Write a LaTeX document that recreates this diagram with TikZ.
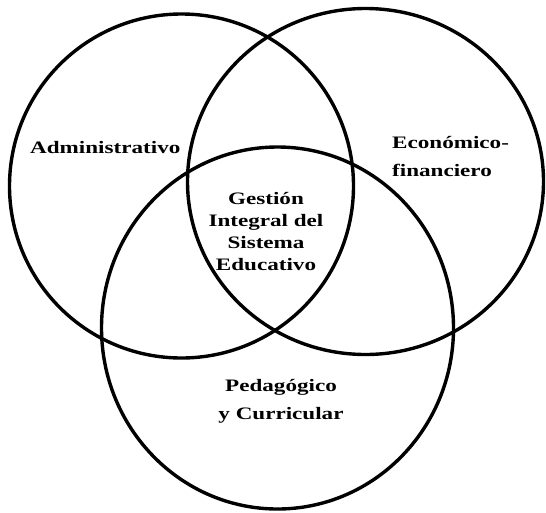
\documentclass[tikz,border=0pt]{standalone}
\usepackage{fontspec}
\setmainfont{Liberation Serif}[FakeStretch=1.32]
\begin{document}
\begin{tikzpicture}[x=1pt,y=-1pt,
  ring/.style={line width=3.4pt,draw=black},
  lbl/.style={inner sep=0pt,font=\bfseries\fontsize{17.5}{28}\selectfont},
  core/.style={inner sep=0pt,font=\bfseries\fontsize{17.5}{22}\selectfont,align=center}]
\useasboundingbox (0,0) rectangle (546,512);
\draw[ring] (181.5,186) ellipse [x radius=172, y radius=172];
\draw[ring] (365.5,181.5) ellipse [x radius=178, y radius=173];
\draw[ring] (277.5,328) ellipse [x radius=176, y radius=181];
\node[lbl,anchor=base west] (adm) at (30,153) {Administrativo};
\node[lbl,anchor=west,align=left] (eco) at (392,157) {Económico-\\financiero};
\node[lbl,anchor=center,align=center] (ped) at (281,401) {Pedagógico\\y Curricular};
\node[core,anchor=center] (gis) at (266,232) {Gestión\\Integral del\\Sistema\\Educativo};
\end{tikzpicture}
\end{document}
